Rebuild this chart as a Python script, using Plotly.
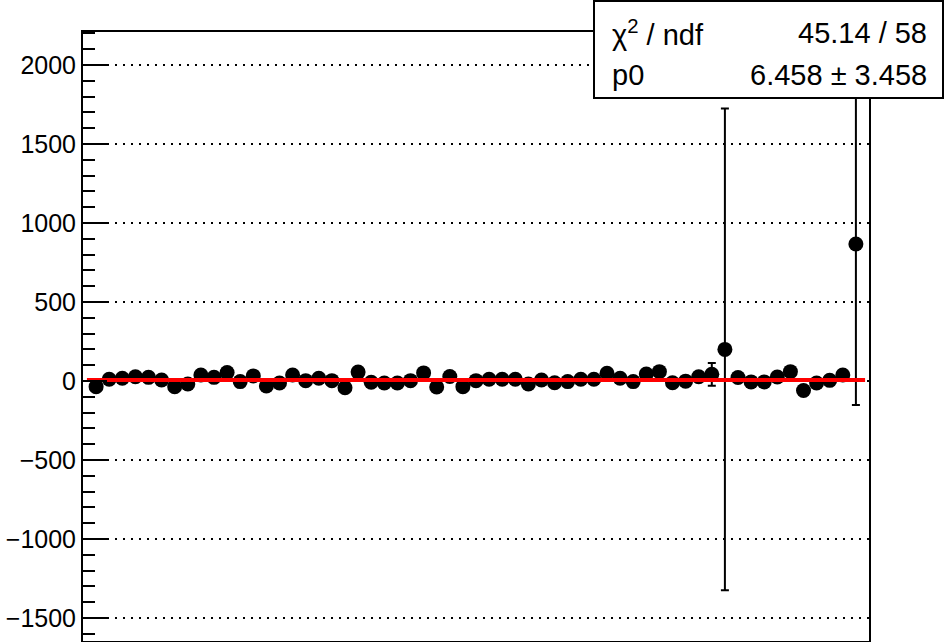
import plotly.graph_objects as go

# ---- data ----
x_vals = list(range(1, 60))
y_vals = [-36, 11, 17, 27, 23, 6, -36, -19, 38, 23,
          53, -4, 32, -32, -13, 38, 2, 17, 2, -43,
          56, -8, -13, -13, 2, 51, -38, 28, -36, 2,
          11, 11, 11, -19, 6, -11, -4, 11, 11, 49,
          17, -4, 44, 59, -11, -1, 27, 42, 200, 22,
          -6, -6, 25, 59, -60, -13, 4, 38, 867]
y_errs = [26] * 59
y_errs[47] = 72
y_errs[48] = 1525
y_errs[58] = 1019

fit_p0 = 6.458
fit_x = [0.3, 59.7]
fit_y = [fit_p0, fit_p0]

stat_labels = ["χ<sup>2</sup> / ndf", "p0"]
stat_values = ["45.14 / 58", "6.458 ± 3.458"]

y_ticks = [-1500, -1000, -500, 0, 500, 1000, 1500, 2000]

W, H = 945, 642
L, R, T, B = 83, 869, 32, 641

fig = go.Figure()
fig.add_trace(go.Scatter(
    x=x_vals, y=y_vals, mode="markers",
    marker=dict(color="black", size=15, line=dict(width=0)),
    error_y=dict(type="data", array=y_errs, visible=True,
                 color="black", thickness=2, width=4),
    showlegend=False, hoverinfo="skip"))
fig.add_trace(go.Scatter(
    x=fit_x, y=fit_y, mode="lines",
    line=dict(color="#ff0000", width=4),
    showlegend=False, hoverinfo="skip"))

fig.update_layout(
    width=W, height=H,
    margin=dict(l=L, r=W - R, t=T, b=H - B, pad=0),
    paper_bgcolor="white", plot_bgcolor="white",
    font=dict(family="Liberation Sans, Arial, sans-serif", color="black"),
    xaxis=dict(range=[0, 60], showticklabels=False, ticks="",
               showgrid=False, zeroline=False,
               showline=True, linecolor="black", linewidth=2, mirror=True),
    yaxis=dict(range=[-1646, 2209], tickvals=y_ticks,
               ticks="inside", ticklen=24, tickwidth=2, tickcolor="black",
               minor=dict(ticks="inside", ticklen=12, tickwidth=2,
                          tickcolor="black", dtick=100, showgrid=False),
               tickfont=dict(size=25, color="black"),
               showgrid=True, gridcolor="black", gridwidth=2,
               griddash="2px,6px",
               zeroline=False,
               showline=True, linecolor="black", linewidth=2, mirror=True),
)

pw, ph = R - L, B - T


def px(xp):
    return (xp - L) / pw


def py(yp):
    return (B - yp) / ph


fig.add_shape(type="rect", xref="paper", yref="paper",
              x0=px(594), x1=px(943), y0=py(98), y1=py(1),
              line=dict(color="black", width=2), fillcolor="white",
              layer="above")

rows_y = [33, 75]
for lab, val, yy in zip(stat_labels, stat_values, rows_y):
    fig.add_annotation(xref="paper", yref="paper", x=px(610), y=py(yy),
                       text=lab, showarrow=False, xanchor="left",
                       yanchor="middle", font=dict(size=29, color="black"))
    fig.add_annotation(xref="paper", yref="paper", x=px(929), y=py(yy),
                       text=val, showarrow=False, xanchor="right",
                       yanchor="middle", font=dict(size=29, color="black"))

fig.write_html("out.html",
               config={"displayModeBar": False},
               post_script="document.body.style.margin='0px';"
                           "document.body.style.padding='0px';")
